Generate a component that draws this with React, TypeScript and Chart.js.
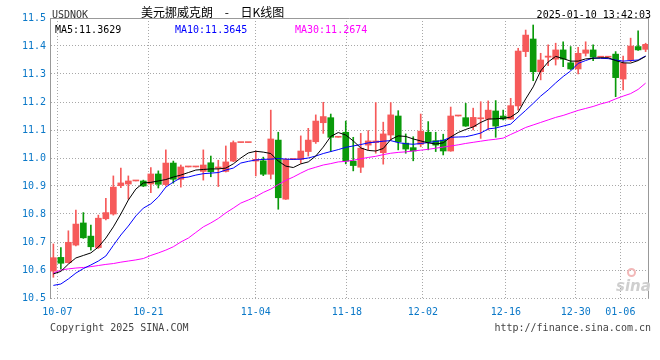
import React, { useEffect, useRef } from "react";
import { Chart, registerables } from "chart.js";
Chart.register(...registerables);

// ---- data ----
const opens = [
  10.596, 10.645, 10.626, 10.689, 10.768, 10.721, 10.68, 10.783, 10.8, 10.901,
  10.907, 10.918, 10.918, 10.907, 10.943, 10.905, 10.982, 10.924, 10.968, 10.968,
  10.952, 10.983, 10.964, 10.952, 10.989, 11.055, 11.055, 10.989, 10.99, 10.942,
  11.064, 10.853, 10.995, 10.995, 11.023, 11.058, 11.126, 11.144, 11.074, 11.092,
  10.989, 10.967, 11.046, 11.055, 11.019, 11.082, 11.15, 11.053, 11.037, 11.049,
  11.092, 11.062, 11.064, 11.025, 11.15, 11.144, 11.112, 11.14, 11.139, 11.168,
  11.15, 11.139, 11.186, 11.38, 11.425, 11.308, 11.36, 11.353, 11.386, 11.34,
  11.318, 11.374, 11.386, 11.36, 11.36, 11.371, 11.282, 11.35, 11.398, 11.388,
];
const highs = [
  10.693, 10.68, 10.74, 10.814, 10.805, 10.76, 10.796, 10.856, 10.936, 10.964,
  10.936, 10.918, 10.921, 10.966, 10.954, 11.029, 10.989, 10.975, 10.968, 10.968,
  11.029, 11.007, 10.992, 11.043, 11.061, 11.055, 11.055, 11.025, 11.003, 11.171,
  11.092, 10.999, 10.995, 11.079, 11.106, 11.154, 11.199, 11.157, 11.074, 11.132,
  11.074, 11.088, 11.098, 11.198, 11.128, 11.198, 11.169, 11.086, 11.076, 11.157,
  11.13, 11.092, 11.085, 11.182, 11.15, 11.195, 11.178, 11.201, 11.204, 11.205,
  11.171, 11.213, 11.392, 11.457, 11.475, 11.374, 11.404, 11.41, 11.415, 11.398,
  11.395, 11.415, 11.404, 11.36, 11.36, 11.38, 11.364, 11.428, 11.454, 11.41,
];
const lows = [
  10.574, 10.603, 10.625, 10.686, 10.713, 10.671, 10.677, 10.779, 10.796, 10.894,
  10.853, 10.918, 10.898, 10.876, 10.893, 10.9, 10.91, 10.896, 10.968, 10.968,
  10.921, 10.933, 10.898, 10.95, 10.987, 11.055, 11.055, 10.936, 10.937, 10.925,
  10.817, 10.852, 10.995, 10.981, 11.007, 11.052, 11.088, 11.023, 11.074, 10.979,
  10.954, 10.948, 11.029, 11.017, 10.978, 11.064, 11.029, 11.017, 10.99, 11.04,
  11.029, 11.023, 11.011, 11.024, 11.15, 11.113, 11.1, 11.07, 11.1, 11.074,
  11.136, 11.138, 11.171, 11.362, 11.276, 11.279, 11.33, 11.332, 11.326, 11.316,
  11.3, 11.364, 11.348, 11.36, 11.36, 11.219, 11.243, 11.344, 11.384, 11.38,
];
const closes = [
  10.644, 10.624, 10.699, 10.764, 10.715, 10.683, 10.785, 10.805, 10.896, 10.911,
  10.918, 10.918, 10.9, 10.943, 10.906, 10.982, 10.924, 10.968, 10.968, 10.968,
  10.975, 10.951, 10.968, 10.986, 11.055, 11.055, 11.055, 10.995, 10.942, 11.068,
  10.858, 10.995, 10.995, 11.025, 11.064, 11.132, 11.148, 11.074, 11.074, 10.989,
  10.973, 11.035, 11.061, 11.061, 11.086, 11.154, 11.058, 11.032, 11.025, 11.096,
  11.058, 11.046, 11.025, 11.15, 11.15, 11.114, 11.145, 11.143, 11.171, 11.114,
  11.139, 11.187, 11.382, 11.439, 11.308, 11.35, 11.364, 11.386, 11.353, 11.318,
  11.374, 11.386, 11.36, 11.36, 11.36, 11.287, 11.338, 11.4, 11.386, 11.406,
];
const ma5 = [
  10.586, 10.595, 10.621, 10.643, 10.652, 10.661, 10.682, 10.714, 10.754, 10.8,
  10.85, 10.889, 10.911, 10.913, 10.918, 10.923, 10.932, 10.939, 10.948, 10.957,
  10.959, 10.961, 10.961, 10.964, 10.979, 11.0, 11.018, 11.024, 11.021, 11.016,
  10.989, 10.971, 10.966, 10.979, 10.986, 11.007, 11.039, 11.077, 11.091, 11.082,
  11.061, 11.036, 11.027, 11.025, 11.034, 11.066, 11.079, 11.077, 11.068, 11.061,
  11.054, 11.05, 11.054, 11.075, 11.091, 11.102, 11.111, 11.127, 11.139, 11.14,
  11.142, 11.146, 11.164, 11.211, 11.254, 11.311, 11.343, 11.363, 11.355, 11.346,
  11.346, 11.354, 11.356, 11.358, 11.358, 11.348, 11.34, 11.339, 11.348, 11.3629,
];
const ma10 = [
  10.545, 10.55, 10.568, 10.589, 10.605, 10.618, 10.632, 10.65, 10.688, 10.725,
  10.757, 10.793, 10.821, 10.836, 10.861, 10.896, 10.914, 10.929, 10.932, 10.939,
  10.944, 10.946, 10.948, 10.957, 10.964, 10.982, 10.988, 10.993, 10.995, 10.996,
  10.998, 10.996, 10.995, 10.996, 11.0, 11.007, 11.016, 11.023, 11.03, 11.038,
  11.043, 11.048, 11.054, 11.057, 11.06, 11.062, 11.055, 11.051, 11.049, 11.052,
  11.055, 11.059, 11.063, 11.074, 11.075, 11.076, 11.082, 11.089, 11.104, 11.107,
  11.114, 11.121, 11.146, 11.17, 11.195, 11.221, 11.243, 11.268, 11.291, 11.311,
  11.338, 11.348, 11.357, 11.356, 11.355, 11.35, 11.346, 11.348, 11.35, 11.3645,
];
const ma30 = [
  10.589, 10.6, 10.604, 10.607, 10.609, 10.612, 10.616, 10.62, 10.623, 10.628,
  10.632, 10.636, 10.641, 10.652, 10.661, 10.671, 10.683, 10.7, 10.714, 10.734,
  10.754, 10.768, 10.784, 10.804, 10.821, 10.839, 10.85, 10.862, 10.877, 10.889,
  10.905, 10.92, 10.932, 10.946, 10.959, 10.967, 10.975, 10.98, 10.986, 10.988,
  10.992, 10.997, 11.002, 11.006, 11.012, 11.017, 11.02, 11.022, 11.025, 11.028,
  11.031, 11.035, 11.039, 11.043, 11.047, 11.052, 11.056, 11.06, 11.064, 11.067,
  11.071, 11.084, 11.096, 11.109, 11.118, 11.127, 11.136, 11.145, 11.152, 11.161,
  11.17, 11.177, 11.184, 11.193, 11.2, 11.211, 11.221, 11.23, 11.245, 11.2674,
];
const tickLabels = ["10-07", "10-21", "11-04", "11-18", "12-02", "12-16", "12-30", "01-06"];
const tickIndex = [0.53, 12.67, 27.0, 39.15, 49.29, 60.36, 69.69, 75.63];

const UP = "#f65a5a";
const DOWN = "#0a9a0a";
const AXIS_BLUE = "#0a78c8";
const MONO = '"DejaVu Sans Mono", monospace';

export default function App() {
  const ref = useRef<HTMLCanvasElement>(null);

  useEffect(() => {
    if (!ref.current) return;
    const idx = closes.map((_, i) => i);
    const colors = idx.map((i) => (closes[i] >= opens[i] ? UP : DOWN));

    const frame = {
      id: "frame",
      afterDatasetsDraw(chart: any) {
        const { ctx, chartArea } = chart;
        const l = Math.round(chartArea.left) + 0.5;
        const r = Math.round(chartArea.right) - 0.5;
        const t = Math.round(chartArea.top) + 0.5;
        ctx.save();
        ctx.strokeStyle = "#999999";
        ctx.lineWidth = 1;
        ctx.beginPath();
        ctx.moveTo(l, t);
        ctx.lineTo(r, t);
        ctx.moveTo(r, t);
        ctx.lineTo(r, Math.round(chartArea.bottom));
        ctx.stroke();
        ctx.restore();
      },
    };

    const line = (label: string, arr: number[], color: string) => ({
      type: "line" as const,
      label,
      data: idx.map((i) => ({ x: i, y: arr[i] })),
      borderColor: color,
      borderWidth: 1,
      pointRadius: 0,
      tension: 0,
      fill: false,
      order: 0,
    });

    const chart = new Chart(ref.current, {
      type: "bar",
      data: {
        datasets: [
          line("MA5", ma5, "#000000"),
          line("MA10", ma10, "#0000ff"),
          line("MA30", ma30, "#ff00ff"),
          {
            type: "bar",
            label: "body",
            data: idx.map((i) => ({ x: i, y: [opens[i], closes[i]] })) as any,
            backgroundColor: colors,
            borderWidth: 0,
            barThickness: 6,
            minBarLength: 1,
            grouped: false,
            order: 1,
          } as any,
          {
            type: "bar",
            label: "wick",
            data: idx.map((i) => ({ x: i, y: [lows[i], highs[i]] })) as any,
            backgroundColor: colors,
            borderWidth: 0,
            barThickness: 1,
            grouped: false,
            order: 2,
          } as any,
        ],
      },
      options: {
        responsive: false,
        animation: false,
        events: [],
        layout: { padding: { top: 18, right: 11, left: 0, bottom: 0 } },
        plugins: { legend: { display: false }, tooltip: { enabled: false } },
        scales: {
          x: {
            type: "linear",
            min: -0.45,
            max: 79.45,
            offset: false,
            afterBuildTicks: (s: any) => {
              s.ticks = tickIndex.map((v) => ({ value: v }));
            },
            afterFit: (s: any) => {
              s.height = 62;
            },
            ticks: {
              autoSkip: false,
              maxRotation: 0,
              minRotation: 0,
              padding: 8,
              color: AXIS_BLUE,
              font: { family: MONO, size: 10 },
              callback: (_v: any, i: number) => tickLabels[i],
            },
            grid: { color: "#a8a8a8", lineWidth: 1, drawTicks: false, offset: false },
            border: { display: false, dash: [1, 2] },
          },
          y: {
            min: 10.5,
            max: 11.5,
            afterFit: (s: any) => {
              s.width = 50;
            },
            ticks: {
              stepSize: 0.1,
              padding: 4,
              color: AXIS_BLUE,
              font: { family: MONO, size: 10 },
              callback: (v: any) => Number(v).toFixed(1),
            },
            grid: { color: "#a8a8a8", lineWidth: 1, drawTicks: false },
            border: { display: true, color: "#999999", width: 1, dash: [1, 2] },
          },
        },
      } as any,
      plugins: [frame],
    });
    return () => chart.destroy();
  }, []);

  const abs = (s: React.CSSProperties): React.CSSProperties => ({
    position: "absolute",
    whiteSpace: "pre",
    margin: 0,
    ...s,
  });

  return (
    <div style={{ position: "absolute", left: 0, top: 0, width: 660, height: 360, background: "#ffffff", overflow: "hidden" }}>
      <canvas ref={ref} width={660} height={360} style={{ position: "absolute", left: 0, top: 0, width: 660, height: 360 }} />
      <div style={abs({ left: 52, top: 10, font: `10px ${MONO}`, lineHeight: "10px", color: "#333" })}>USDNOK</div>
      <div style={abs({ left: 141, top: 6, font: '12px "Noto Sans CJK SC", sans-serif', lineHeight: "12px", color: "#000", wordSpacing: 9 })}>
        美元挪威克朗 - 日K线图
      </div>
      <div style={abs({ right: 9, top: 10, font: `10px ${MONO}`, lineHeight: "10px", color: "#000" })}>2025-01-10 13:42:03</div>
      <div style={abs({ left: 55, top: 24.5, font: `10px ${MONO}`, lineHeight: "10px", color: "#000" })}>MA5:11.3629</div>
      <div style={abs({ left: 175, top: 24.5, font: `10px ${MONO}`, lineHeight: "10px", color: "#0000ff" })}>MA10:11.3645</div>
      <div style={abs({ left: 295, top: 24.5, font: `10px ${MONO}`, lineHeight: "10px", color: "#ff00ff" })}>MA30:11.2674</div>
      <div style={abs({ left: 50, top: 323, font: `10px ${MONO}`, lineHeight: "10px", color: "#444" })}>Copyright 2025 SINA.COM</div>
      <div style={abs({ right: 9, top: 323, font: `10px ${MONO}`, lineHeight: "10px", color: "#444" })}>http://finance.sina.com.cn</div>
      <div style={abs({ left: 627, top: 268, width: 9, height: 9, borderRadius: "50%", border: "2px solid #f2b8b8", boxSizing: "border-box" })} />
      <div style={abs({ left: 616, top: 279, font: 'italic bold 15px "DejaVu Sans", sans-serif', lineHeight: "15px", color: "#cfcfcf" })}>sina</div>
    </div>
  );
}
